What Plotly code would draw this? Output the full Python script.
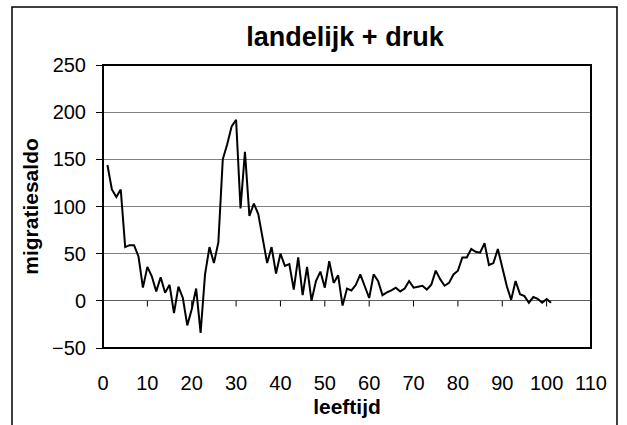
import plotly.graph_objects as go

ages = list(range(1, 102))
migratiesaldo = [
    144, 118, 110, 118, 57, 59, 59, 47, 14, 36,
    26, 10, 25, 8.5, 17, -13, 15, 3, -26, -9,
    13, -34, 28, 57, 40, 62, 150, 166, 185, 192,
    98, 158, 90, 103, 92, 66, 40, 57, 29, 50,
    37, 39, 12, 46, 6, 36, 0, 21, 31, 14,
    42, 19, 27, -5, 13, 11, 17, 28, 15, 3,
    28, 21, 6, 9, 11, 14, 10, 13, 21, 14,
    15, 16, 12, 17, 32, 23, 16, 19, 28, 32,
    46, 46, 55, 52, 51, 61, 38, 40, 55, 35,
    16, 1, 21, 7, 5, -2, 4, 2, -2, 2,
    -2,
]
x_ticks = list(range(0, 111, 10))
y_ticks = list(range(-50, 251, 50))

title_text = "landelijk + druk"
x_title = "leeftijd"
y_title = "migratiesaldo"

FONT = "Arial, Liberation Sans, sans-serif"

L, R, T, B = 103, 36, 65, 77
W, H = 627, 425
PW, PH = W - L - R, H - T - B

fig = go.Figure()
fig.add_trace(go.Scatter(
    x=ages, y=migratiesaldo, mode="lines",
    line=dict(color="black", width=2),
    showlegend=False, hoverinfo="skip",
))

# x-axis tick marks hanging below the zero line
for t in x_ticks:
    fig.add_shape(type="line", xref="x", yref="y", x0=t, x1=t, y0=0, y1=-6,
                  line=dict(color="black", width=1), layer="above")

# plot area frame
fig.add_shape(type="rect", xref="paper", yref="paper", x0=0, x1=1, y0=0, y1=1,
              line=dict(color="black", width=2), layer="above")
# outer chart frame
fig.add_shape(type="rect", xref="paper", yref="paper",
              x0=(12 - L) / PW, x1=(617 - L) / PW,
              y0=(H - B - 432) / PH, y1=(H - B - 7) / PH,
              line=dict(color="black", width=1.5), layer="above")

fig.update_layout(
    width=W, height=H,
    margin=dict(l=L, r=R, t=T, b=B, autoexpand=False),
    paper_bgcolor="white", plot_bgcolor="white",
    font=dict(family=FONT, color="black", size=20),
    title=dict(text="<b>" + title_text + "</b>", x=345 / W, xanchor="center",
               y=1 - 37 / H, yanchor="middle", yref="container", automargin=False,
               font=dict(size=27, family=FONT, color="black")),
    xaxis=dict(range=[0, 110], tickvals=x_ticks, ticks="", showgrid=False,
               zeroline=False, showline=False, ticklabelstandoff=21,
               automargin=False, tickfont=dict(size=20),
               title=dict(text="<b>" + x_title + "</b>", standoff=6,
                          font=dict(size=21))),
    yaxis=dict(range=[-50, 250], tickvals=y_ticks, ticks="outside", ticklen=6,
               tickcolor="black", tickwidth=1, showgrid=True,
               gridcolor="#808080", gridwidth=1, zeroline=True,
               zerolinecolor="#606060", zerolinewidth=1, showline=False,
               ticklabelstandoff=6, automargin=False, tickfont=dict(size=20),
               title=dict(text="<b>" + y_title + "</b>", standoff=7,
                          font=dict(size=21))),
)

fig.write_html("out.html", config={"displayModeBar": False},
               post_script="document.body.style.margin='0';document.body.style.overflow='hidden';")
